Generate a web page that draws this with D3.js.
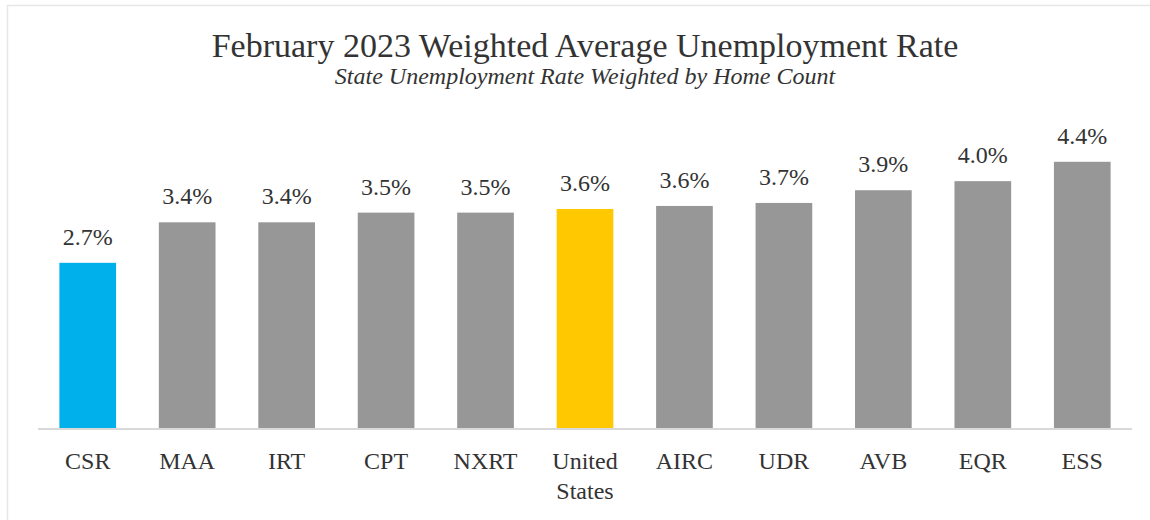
<!DOCTYPE html>
<html>
<head>
<meta charset="utf-8">
<script src="https://cdn.jsdelivr.net/npm/d3@7"></script>
<style>
  html, body { margin: 0; padding: 0; background: #fff; }
  svg { display: block; }
  text { font-family: "Liberation Serif", "DejaVu Serif", serif; fill: #333; }
</style>
</head>
<body>
<svg id="chart" width="1150" height="520"></svg>
<script>
const categories = ["CSR", "MAA", "IRT", "CPT", "NXRT", "United States", "AIRC", "UDR", "AVB", "EQR", "ESS"];
const values = [2.73, 3.40, 3.40, 3.56, 3.56, 3.62, 3.67, 3.72, 3.93, 4.08, 4.40];
const valueLabels = ["2.7%", "3.4%", "3.4%", "3.5%", "3.5%", "3.6%", "3.6%", "3.7%", "3.9%", "4.0%", "4.4%"];
const highlight = { "CSR": "#00b0ea", "United States": "#ffc800" };
const title = "February 2023 Weighted Average Unemployment Rate";
const subtitle = "State Unemployment Rate Weighted by Home Count";

const svg = d3.select("#chart");

// outer frame
svg.append("rect")
  .attr("x", 7.5).attr("y", 5.5)
  .attr("width", 1160).attr("height", 540)
  .attr("fill", "none").attr("stroke", "#e6e6e6").attr("stroke-width", 1.5);

const left = 38, right = 1132, baseline = 428;

const x = d3.scaleBand().domain(categories).range([left, right]).paddingInner(0.43).paddingOuter(0.215);
const y = d3.scaleLinear().domain([0, 5]).range([baseline, baseline - 302.5]);

svg.append("text")
  .attr("x", 585).attr("y", 57)
  .attr("text-anchor", "middle")
  .style("font-size", "34px")
  .text(title);

svg.append("text")
  .attr("x", 585).attr("y", 84)
  .attr("text-anchor", "middle")
  .style("font-size", "24px")
  .style("font-style", "italic")
  .text(subtitle);

const data = categories.map((c, i) => ({ c, v: values[i], label: valueLabels[i] }));

svg.append("g").selectAll("rect").data(data).join("rect")
  .attr("x", d => x(d.c))
  .attr("width", x.bandwidth())
  .attr("y", d => y(d.v))
  .attr("height", d => y(0) - y(d.v))
  .attr("fill", d => highlight[d.c] || "#979797");

svg.append("g").selectAll("text").data(data).join("text")
  .attr("x", d => x(d.c) + x.bandwidth() / 2)
  .attr("y", d => y(d.v) - 18)
  .attr("text-anchor", "middle")
  .style("font-size", "24px")
  .text(d => d.label);

// axis line
const axis = d3.axisBottom(x).tickSize(0).tickFormat("");
const gAxis = svg.append("g").attr("transform", `translate(0,${baseline + 1})`).call(axis);
gAxis.select(".domain").attr("stroke", "#d9d9d9").attr("stroke-width", 2).attr("d", `M${left},0H${right}`);

// category labels with wrapping
const catG = svg.append("g");
data.forEach(d => {
  const words = d.c.split(" ");
  const t = catG.append("text")
    .attr("x", x(d.c) + x.bandwidth() / 2)
    .attr("y", 469)
    .attr("text-anchor", "middle")
    .style("font-size", "24px");
  words.forEach((w, i) => {
    t.append("tspan")
      .attr("x", x(d.c) + x.bandwidth() / 2)
      .attr("dy", i === 0 ? 0 : 30)
      .text(w);
  });
});
</script>
</body>
</html>
